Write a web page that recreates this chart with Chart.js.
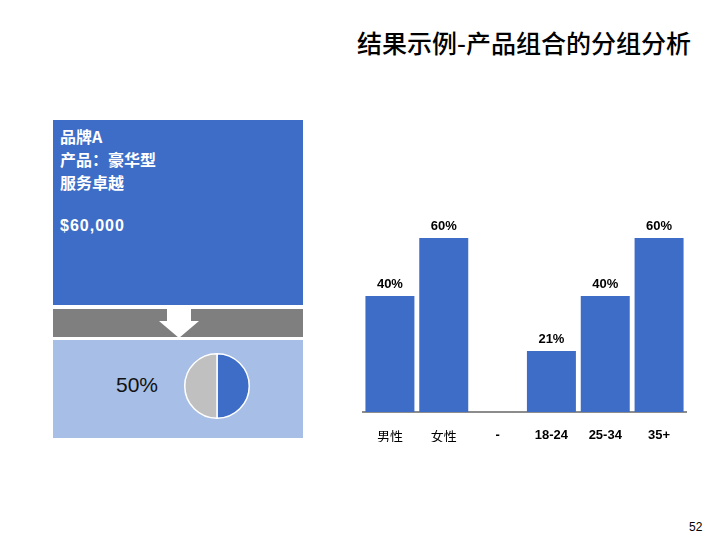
<!DOCTYPE html>
<html>
<head>
<meta charset="utf-8">
<script src="https://cdn.jsdelivr.net/npm/chart.js@4.4.1/dist/chart.umd.min.js"></script>
<style>
  body { margin: 0; background: #fff; }
  #slide { position: relative; width: 720px; height: 540px; overflow: hidden; font-family: "Liberation Sans", Arial, sans-serif; }
  .title { position: absolute; left: 300px; top: 26px; width: 391px; text-align: right; font-family: "Noto Sans CJK SC", sans-serif; font-size: 25px; font-weight: 500; line-height: 32px; color: #000; }
  .blue-box { position: absolute; left: 53px; top: 120px; width: 250px; height: 185px; background: #3E6DC7; }
  .blue-box .txt { position: absolute; left: 7px; color: #fff; font-family: "Noto Sans CJK SC", sans-serif; font-weight: bold; font-size: 16px; line-height: 23px; top: 5px; }
  .blue-box .price { position: absolute; left: 7px; top: 97px; color: #fff; font-weight: bold; font-size: 16px; letter-spacing: 1px; }
  .gray-band { position: absolute; left: 53px; top: 309px; width: 250px; height: 28px; background: #7F7F7F; }
  .light-box { position: absolute; left: 53px; top: 340px; width: 250px; height: 98px; background: #A7BEE6; }
  .share { position: absolute; left: 116px; top: 373px; font-size: 21px; color: #111; }
  .page { position: absolute; left: 689px; top: 520px; font-size: 12px; color: #000; }
  #pieCanvas { position: absolute; left: 182px; top: 351px; }
  #barCanvas { position: absolute; left: 355px; top: 200px; }
  svg { position: absolute; left: 0; top: 0; }
</style>
</head>
<body>
<div id="slide">
  <div class="title">结果示例-产品组合的分组分析</div>
  <div class="blue-box">
    <div class="txt">品牌A<br>产品：豪华型<br>服务卓越</div>
    <div class="price">$60,000</div>
  </div>
  <div class="gray-band"></div>
  <div class="light-box"></div>
  <svg width="720" height="540">
    <polygon points="167,309 191,309 191,321 199,321 179,338 159,321 167,321" fill="#fff"/>
  </svg>
  <div class="share">50%</div>
  <canvas id="pieCanvas" width="70" height="70"></canvas>
  <canvas id="barCanvas" width="335" height="250"></canvas>
  <div class="page">52</div>
</div>
<script>
// segment data
const categories = ['男性', '女性', '-', '18-24', '25-34', '35+'];
const shares = [40, 60, null, 21, 40, 60];

// pie: share of brand A
const pieLabels = ['品牌A', '其他'];
const pieValues = [50, 50];

const BLUE = '#3E6DC7';

// draws "xx%" above each bar
const valueLabels = {
  id: 'valueLabels',
  afterDatasetsDraw(chart) {
    const ctx = chart.ctx;
    const meta = chart.getDatasetMeta(0);
    ctx.save();
    ctx.font = 'bold 13px "Liberation Sans", Arial, sans-serif';
    ctx.fillStyle = '#000';
    ctx.textAlign = 'center';
    ctx.textBaseline = 'bottom';
    meta.data.forEach((bar, i) => {
      const v = chart.data.datasets[0].data[i];
      if (v == null) return;
      ctx.fillText(v + '%', bar.x, bar.y - 5);
    });
    ctx.restore();
  }
};

new Chart(document.getElementById('barCanvas'), {
  type: 'bar',
  data: {
    labels: categories,
    datasets: [{
      data: shares,
      backgroundColor: BLUE,
      borderWidth: 0,
      barPercentage: 0.91,
      categoryPercentage: 1
    }]
  },
  options: {
    responsive: false,
    animation: false,
    layout: { padding: { left: 8, right: 4, top: 9, bottom: 8 } },
    plugins: { legend: { display: false }, tooltip: { enabled: false } },
    scales: {
      x: {
        afterFit: (s) => { s.height = 30; },
        grid: { display: false, drawTicks: false },
        border: { display: true, color: '#8C8C8C', width: 2 },
        ticks: {
          padding: 16,
          color: '#000',
          font: (c) => {
            const lbl = categories[c.index] || '';
            const cjk = /[\u4e00-\u9fff]/.test(lbl);
            return cjk
              ? { family: '"Noto Sans CJK SC", sans-serif', size: 13, weight: 'normal' }
              : { family: '"Liberation Sans", Arial, sans-serif', size: 13, weight: 'bold' };
          }
        }
      },
      y: { display: false, min: 0, max: 70 }
    }
  },
  plugins: [valueLabels]
});

new Chart(document.getElementById('pieCanvas'), {
  type: 'pie',
  data: {
    labels: pieLabels,
    datasets: [{
      data: pieValues,
      backgroundColor: [BLUE, '#C0C0C0'],
      borderColor: '#fff',
      borderWidth: 1.5
    }]
  },
  options: {
    responsive: false,
    animation: false,
    layout: { padding: 2 },
    plugins: { legend: { display: false }, tooltip: { enabled: false } }
  }
});
</script>
</body>
</html>
